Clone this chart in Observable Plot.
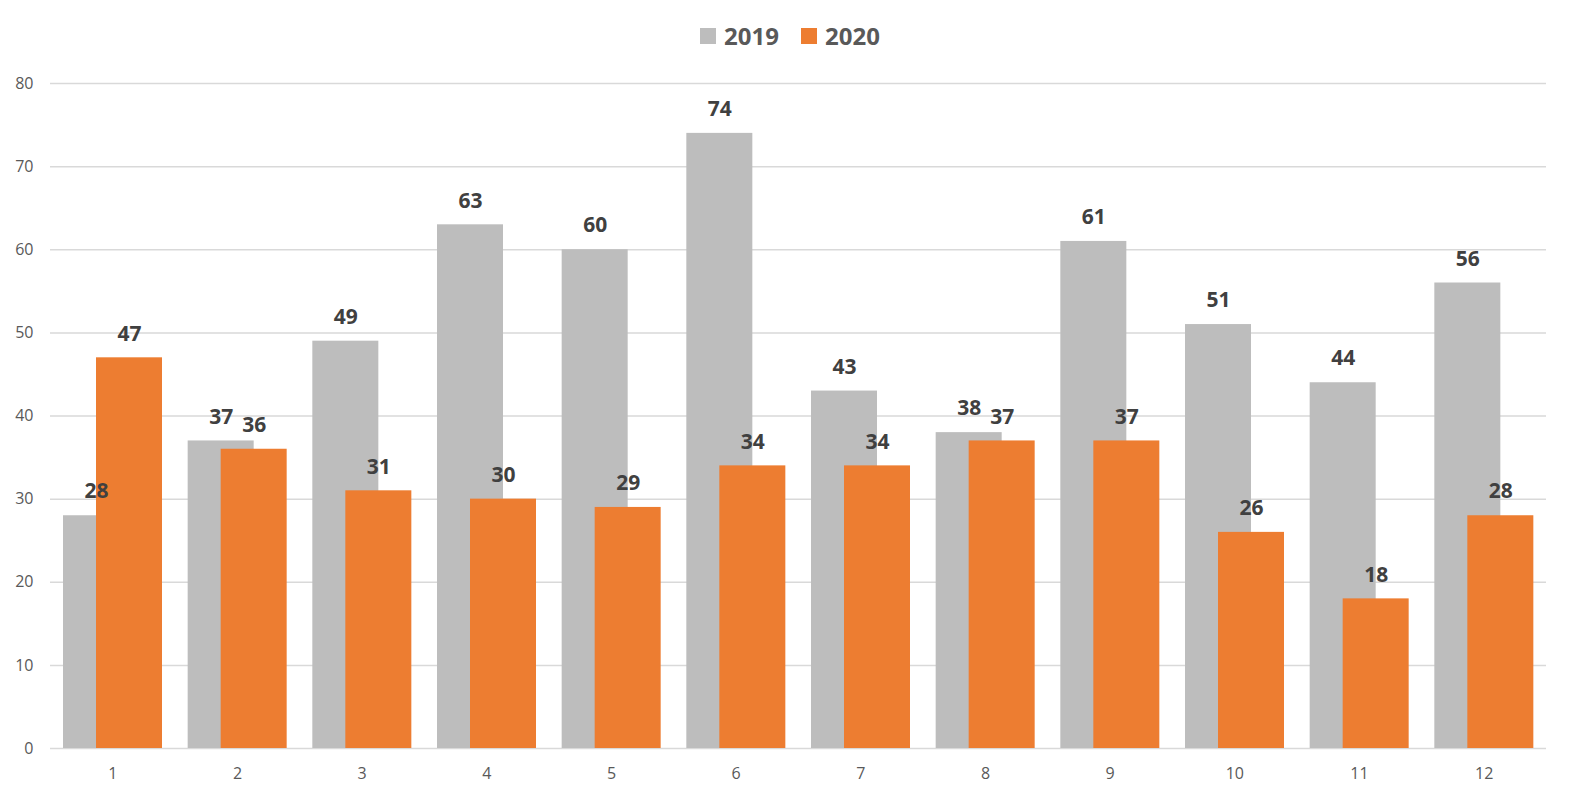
<!DOCTYPE html>
<html>
<head>
<meta charset="utf-8">
<script src="https://cdn.jsdelivr.net/npm/d3@7"></script>
<script src="https://cdn.jsdelivr.net/npm/@observablehq/plot@0.6"></script>
<style>
  html, body { margin: 0; padding: 0; background: #fff; }
  body { width: 1569px; height: 797px; overflow: hidden; font-family: "Open Sans", sans-serif; }
  #legend { height: 60px; display: flex; justify-content: center; align-items: flex-start; padding-left: 11px; box-sizing: border-box; }
  .item { display: flex; align-items: center; margin-top: 21px; font-weight: bold; font-size: 24px; color: #595959; line-height: 30px; }
  .item + .item { margin-left: 22px; }
  .sw { width: 16px; height: 16px; display: inline-block; margin-right: 8px; }
</style>
</head>
<body>
<div id="legend"></div>
<div id="chart"></div>
<script>
const months = ["1","2","3","4","5","6","7","8","9","10","11","12"];
const values2019 = [28, 37, 49, 63, 60, 74, 43, 38, 61, 51, 44, 56];
const values2020 = [47, 36, 31, 30, 29, 34, 34, 37, 37, 26, 18, 28];
const seriesNames = ["2019", "2020"];
const seriesColors = ["#bdbdbd", "#ed7d31"];
const yTicks = [0, 10, 20, 30, 40, 50, 60, 70, 80];

const d19 = months.map((m, i) => ({month: m, value: values2019[i]}));
const d20 = months.map((m, i) => ({month: m, value: values2020[i]}));

// legend
const legend = document.getElementById("legend");
seriesNames.forEach((name, i) => {
  const it = document.createElement("div");
  it.className = "item";
  it.innerHTML = `<span class="sw" style="background:${seriesColors[i]}"></span><span>${name}</span>`;
  legend.appendChild(it);
});

const W = 1569, H = 737;
const marginLeft = 50, marginRight = 23;
const band = (W - marginLeft - marginRight) / months.length;

const labelFont = {fontFamily: "Open Sans", fontWeight: "bold", fontSize: 21, fill: "#404040"};

const plot = Plot.plot({
  width: W,
  height: H,
  marginLeft, marginRight,
  marginTop: 23,
  marginBottom: 49,
  style: {fontFamily: "Open Sans", fontSize: "16px", color: "#595959", background: "#fff"},
  x: {domain: months, padding: 0, round: false, label: null, tickSize: 0, tickPadding: 19},
  y: {domain: [0, 80], ticks: yTicks, label: null, tickSize: 0, tickPadding: 17},
  marks: [
    Plot.ruleY(yTicks, {stroke: "#d9d9d9", strokeWidth: 1.5}),
    Plot.barY(d19, {x: "month", y: "value", fill: seriesColors[0], insetLeft: 13, insetRight: band - 79}),
    Plot.barY(d20, {x: "month", y: "value", fill: seriesColors[1], insetLeft: 46, insetRight: band - 112}),
    Plot.text(d19, {x: "month", y: "value", text: d => String(d.value), dx: 13 + 33 - band / 2, dy: -24, lineAnchor: "middle", ...labelFont}),
    Plot.text(d20, {x: "month", y: "value", text: d => String(d.value), dx: 46 + 33 - band / 2, dy: -24, lineAnchor: "middle", ...labelFont}),
    Plot.axisY({ticks: yTicks, tickSize: 0, tickPadding: 17, label: null, fill: "#595959"}),
    Plot.axisX({tickSize: 0, tickPadding: 19, label: null, fill: "#595959"})
  ]
});
document.getElementById("chart").appendChild(plot);
</script>
</body>
</html>
